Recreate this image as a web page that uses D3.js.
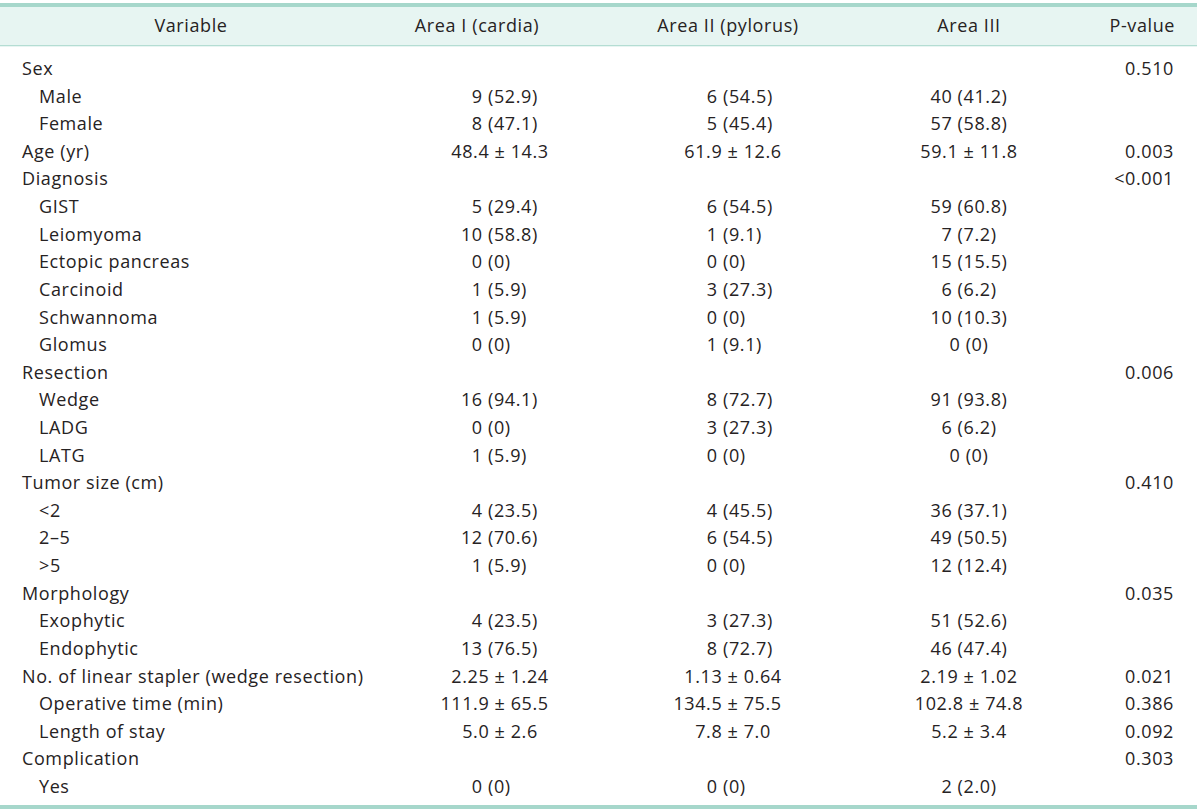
<!DOCTYPE html>
<html>
<head>
<meta charset="utf-8">
<script src="https://cdn.jsdelivr.net/npm/d3@7"></script>
<style>
  body { margin: 0; background: #fff; }
  text { font-family: "Open Sans", "Noto Sans", sans-serif; font-size: 18px; fill: #262223; letter-spacing: 0.6px; white-space: pre; }
</style>
</head>
<body>
<svg id="chart" width="1200" height="811"></svg>
<script>
// table contents
const headers = ["Variable", "Area I (cardia)", "Area II (pylorus)", "Area III", "P-value"];

const variables = [
  "Sex", "Male", "Female", "Age (yr)", "Diagnosis", "GIST", "Leiomyoma", "Ectopic pancreas",
  "Carcinoid", "Schwannoma", "Glomus", "Resection", "Wedge", "LADG", "LATG", "Tumor size (cm)",
  "<2", "2\u20135", ">5", "Morphology", "Exophytic", "Endophytic",
  "No. of linear stapler (wedge resection)", "Operative time (min)", "Length of stay",
  "Complication", "Yes"
];
const indentLevel = [0,1,1,0,0,1,1,1,1,1,1,0,1,1,1,0,1,1,1,0,1,1,0,1,1,0,1];

const areaI = [
  "", "9 (52.9)", "8 (47.1)", "48.4 \u00b1 14.3", "", "5 (29.4)", "10 (58.8)", "0 (0)",
  "1 (5.9)", "1 (5.9)", "0 (0)", "", "16 (94.1)", "0 (0)", "1 (5.9)", "",
  "4 (23.5)", "12 (70.6)", "1 (5.9)", "", "4 (23.5)", "13 (76.5)",
  "2.25 \u00b1 1.24", "111.9 \u00b1 65.5", "5.0 \u00b1 2.6", "", "0 (0)"
];
const areaII = [
  "", "6 (54.5)", "5 (45.4)", "61.9 \u00b1 12.6", "", "6 (54.5)", "1 (9.1)", "0 (0)",
  "3 (27.3)", "0 (0)", "1 (9.1)", "", "8 (72.7)", "3 (27.3)", "0 (0)", "",
  "4 (45.5)", "6 (54.5)", "0 (0)", "", "3 (27.3)", "8 (72.7)",
  "1.13 \u00b1 0.64", "134.5 \u00b1 75.5", "7.8 \u00b1 7.0", "", "0 (0)"
];
const areaIII = [
  "", "40 (41.2)", "57 (58.8)", "59.1 \u00b1 11.8", "", "59 (60.8)", "7 (7.2)", "15 (15.5)",
  "6 (6.2)", "10 (10.3)", "0 (0)", "", "91 (93.8)", "6 (6.2)", "0 (0)", "",
  "36 (37.1)", "49 (50.5)", "12 (12.4)", "", "51 (52.6)", "46 (47.4)",
  "2.19 \u00b1 1.02", "102.8 \u00b1 74.8", "5.2 \u00b1 3.4", "", "2 (2.0)"
];
const pValues = [
  "0.510", "", "", "0.003", "<0.001", "", "", "", "", "", "", "0.006", "", "", "", "0.410",
  "", "", "", "0.035", "", "", "0.021", "0.386", "0.092", "0.303", ""
];

const svg = d3.select("#chart");
const W = 1197;
const teal = "#a6d7cb";

// header band and rules
svg.append("rect").attr("x", 0).attr("y", 7).attr("width", W).attr("height", 38).attr("fill", "#e7f5f2");
svg.append("rect").attr("x", 0).attr("y", 3).attr("width", W).attr("height", 4).attr("fill", teal);
svg.append("rect").attr("x", 0).attr("y", 45).attr("width", W).attr("height", 1.3).attr("fill", "#b4ddd3");
svg.append("rect").attr("x", 0).attr("y", 805).attr("width", W).attr("height", 4).attr("fill", teal);

// row positions (baselines)
const y = d3.scalePoint().domain(d3.range(variables.length)).range([75, 793]);

// header
const headerX = [191, 477, 728, 969, 1175];
const headerAnchor = ["middle", "middle", "middle", "middle", "end"];
svg.append("g").selectAll("text").data(headers).join("text")
  .attr("x", (d, i) => headerX[i])
  .attr("y", 32)
  .attr("text-anchor", (d, i) => headerAnchor[i])
  .text(d => d);

// variable column
svg.append("g").selectAll("text").data(variables).join("text")
  .attr("x", (d, i) => 22 + indentLevel[i] * 17)
  .attr("y", (d, i) => y(i))
  .text(d => d);

// measure a glyph
const probe = svg.append("text").text("\u00b1");
const pmW = probe.node().getComputedTextLength();
probe.remove();

// value columns: aligned on "(" or "±", or centred
const columns = [
  { values: areaI, paren: 488, pm: 500 },
  { values: areaII, paren: 723, pm: 733 },
  { values: areaIII, center: 969 }
];

columns.forEach(col => {
  const g = svg.append("g");
  col.values.forEach((v, i) => {
    if (!v) return;
    if (col.center !== undefined) {
      g.append("text").attr("x", col.center).attr("y", y(i)).attr("text-anchor", "middle").text(v);
      return;
    }
    if (v.includes("\u00b1")) {
      const [left, right] = v.split(" \u00b1 ");
      g.append("text").attr("x", col.pm + pmW / 2).attr("y", y(i)).attr("text-anchor", "end").text(left + " \u00b1");
      g.append("text").attr("x", col.pm + pmW / 2).attr("y", y(i)).text(" " + right);
    } else {
      const k = v.indexOf(" (");
      g.append("text").attr("x", col.paren).attr("y", y(i)).attr("text-anchor", "end").text(v.slice(0, k + 1));
      g.append("text").attr("x", col.paren).attr("y", y(i)).text(v.slice(k + 1));
    }
  });
});

// p-values
svg.append("g").selectAll("text").data(pValues).join("text")
  .attr("x", 1174)
  .attr("y", (d, i) => y(i))
  .attr("text-anchor", "end")
  .text(d => d);
</script>
</body>
</html>
